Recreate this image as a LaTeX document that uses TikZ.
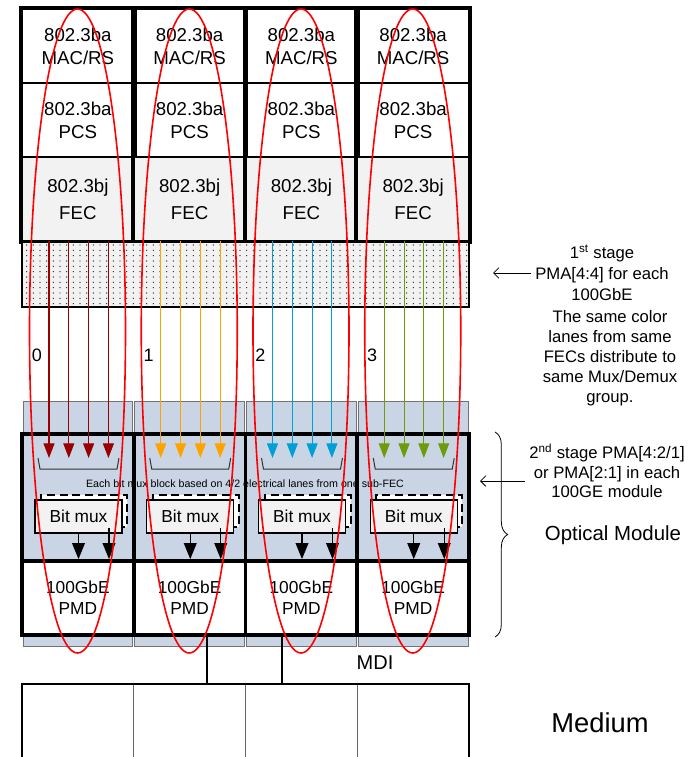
\documentclass[tikz,border=0pt]{standalone}
\usepackage{fontspec}
\setmainfont{Liberation Sans}
\usetikzlibrary{arrows.meta,patterns.meta,decorations.pathreplacing,positioning}

\definecolor{laneRed}{RGB}{155,0,0}
\definecolor{laneOrange}{RGB}{255,163,0}
\definecolor{laneBlue}{RGB}{0,160,214}
\definecolor{laneGreen}{RGB}{110,155,10}
\definecolor{moduleBlue}{RGB}{201,213,228}
\definecolor{fecGray}{RGB}{242,242,242}

\tikzdeclarepattern{
  name=bandDots,
  type=uncolored,
  bottom left={(-.6pt,-.6pt)},
  top right={(4.6pt,3.6pt)},
  tile size={(5pt,4pt)},
  code={\fill (0,0) circle (.55pt);}
}

\begin{document}
\begin{tikzpicture}[x=0.75pt, y=-0.75pt,
    layer/.style={draw, line width=1.4pt, minimum width=83.8pt, minimum height=55.5pt, inner sep=0pt, align=center, font=\fontsize{14}{17.5}\selectfont},
    fecbox/.style={layer, fill=fecGray, minimum height=63pt, font=\fontsize{14}{20}\selectfont},
    colframe/.style={line width=3pt},
    band/.style={draw, line width=2.2pt, preaction={fill=fecGray}, pattern=bandDots, pattern color=black!80, minimum width=335.25pt, minimum height=48.75pt, inner sep=0pt},
    module/.style={draw=black!55, fill=moduleBlue, line width=.75pt},
    modframe/.style={line width=2.8pt},
    muxback/.style={draw, fill=white, line width=1.5pt, dash pattern=on 6pt off 3.5pt, minimum width=64.5pt, minimum height=24pt, inner sep=0pt},
    muxbox/.style={draw, fill=fecGray, line width=1.1pt, minimum width=65.25pt, minimum height=24.75pt, inner sep=0pt, font=\fontsize{13}{15}\selectfont},
    pmdbox/.style={draw, fill=white, line width=2.8pt, minimum width=83.8pt, minimum height=55.5pt, inner sep=0pt, align=center, font=\fontsize{13}{15.5}\selectfont},
    lane/.style={line width=.8pt, -{Triangle[width=8.25pt,length=11pt]}},
    bitarrow/.style={line width=1.1pt, -{Triangle[width=9.5pt,length=12pt]}},
    bracket/.style={line width=.75pt, black!80},
    oval/.style={draw=red, line width=1.2pt},
    lanenum/.style={font=\fontsize{13.5}{16}\selectfont, inner sep=0pt},
    note/.style={align=center, font=\fontsize{12.5}{15}\selectfont},
    pointer/.style={line width=.6pt, -{Straight Barb[length=4pt,width=8pt]}},
    medbox/.style={draw=black!60, line width=.75pt, minimum width=83.8pt, minimum height=60pt, inner sep=0pt},
    edge/.style={line width=1.5pt}
]
    \useasboundingbox (0,0) rectangle (694,757);

    % Protocol stack
    \foreach \i in {0,...,3} {
        \pgfmathsetmacro\xm{77.875+111.75*\i}
        \node[layer] (mac\i) at (\xm,46) {802.3ba\\MAC/RS};
        \node[layer] (pcs\i) at (\xm,120) {802.3ba\\PCS};
        \node[fecbox] (fec\i) at (\xm,199) {802.3bj\\FEC};
        \draw[colframe] (mac\i.north west) rectangle (fec\i.south east);
    }

    % 1st stage PMA band
    \node[band] (band) at (245.5,274.5) {};

    % Optical modules
    \foreach \i in {0,...,3} {
        \pgfmathsetmacro\xl{22+111.75*\i}
        \draw[module] (\xl+1,401) rectangle (\xl+110.75,646);
        \draw[modframe] (\xl,434) rectangle (\xl+111.75,635);
        \node[pmdbox] (pmd\i) at (\xl+55.875,598) {100GbE\\PMD};
    }

    % Lanes from each FEC
    \foreach \i/\c in {0/laneRed,1/laneOrange,2/laneBlue,3/laneGreen} {
        \pgfmathsetmacro\xl{22+111.75*\i}
        \foreach \k in {0,...,3} {
            \pgfmathsetmacro\xk{\xl+27+19.8*\k}
            \coordinate (tip\i\k) at (\xk,458);
            \draw[lane, draw=\c, fill=\c] (band.north -| tip\i\k) -- (tip\i\k);
        }
        \draw[bracket] (\xl+16,458) -- (\xl+18,469) -- (\xl+95,469) -- (\xl+97,458);
        \node[lanenum] (num\i) at (\xl+15,355) {\i};
        \node[muxback] (muxb\i) at (\xl+62,511) {};
        \node[muxbox] (mux\i) at (\xl+56.5,516.5) {Bit mux};
        \draw[bitarrow] (mux\i.south) -- (mux\i.south |- pmd\i.north);
        \draw[bitarrow] ([xshift=18.75pt]muxb\i.south) -- ([xshift=18.75pt]muxb\i.south |- pmd\i.north);
    }
    \node[font=\fontsize{8}{9}\selectfont, inner sep=0pt] (muxnote) at (245,484)
        {Each bit mux block based on 4/2 electrical lanes from one sub-FEC};

    % Medium and MDI
    \foreach \i in {0,...,3} {
        \node[medbox] (med\i) at (77.875+111.75*\i,724) {};
    }
    \draw[edge] (med0.south west) -- (med0.north west) -- (med3.north east) -- (med3.south east);
    \coordinate (mdiA) at (207,684);
    \coordinate (mdiB) at (282,684);
    \draw[line width=1.1pt] (pmd1.south -| mdiA) -- (mdiA);
    \draw[line width=1.1pt] (pmd2.south -| mdiB) -- (mdiB);
    \node[font=\fontsize{15}{18}\selectfont] (mdi) at (375,663) {MDI};

    % FEC groups
    \foreach \i in {0,...,3} {
        \draw[oval] (77.5+111.75*\i,331) ellipse [x radius=48, y radius=322];
    }

    % Annotations
    \node[note, font=\fontsize{12.5}{16}\selectfont] (note1) at (602,273)
        {1\textsuperscript{st} stage\\PMA[4:4] for each\\100GbE};
    \coordinate (p1) at (493,273);
    \draw[pointer] (note1.west) -- (p1);
    \node[note] (note2) at (610,358)
        {The same color\\lanes from same\\FECs distribute to\\same Mux/Demux\\group.};
    \node[note, font=\fontsize{12.5}{14.6}\selectfont] (note3) at (607,471)
        {2\textsuperscript{nd} stage PMA[4:2/1]\\or PMA[2:1] in each\\100GE module};
    \coordinate (p2) at (480,481);
    \draw[pointer] (note3.west |- p2) -- (p2);
    \draw[line width=.6pt, decorate, decoration={brace, amplitude=9.5pt}] (495,432) -- (495,637);
    \node[font=\fontsize{15.3}{18}\selectfont] (optical) at (613,535) {Optical Module};
    \node[font=\fontsize{20.5}{24}\selectfont] (medium) at (600,723) {Medium};
\end{tikzpicture}
\end{document}
